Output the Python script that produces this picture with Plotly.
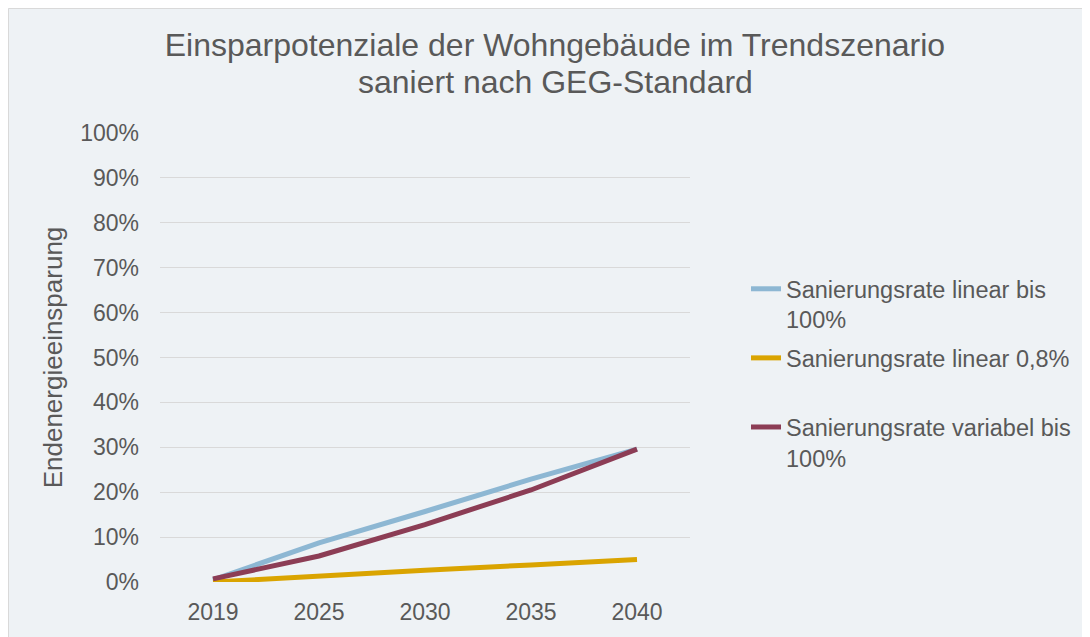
import plotly.graph_objects as go

years = ["2019", "2025", "2030", "2035", "2040"]
linear_100 = [0.005, 0.087, 0.157, 0.229, 0.296]
linear_08 = [0.000, 0.014, 0.026, 0.038, 0.050]
variabel_100 = [0.007, 0.058, 0.128, 0.205, 0.296]

title_line1 = "Einsparpotenziale der Wohngebäude im Trendszenario"
title_line2 = "saniert nach GEG-Standard"
names = ["Sanierungsrate linear bis<br>100%", "Sanierungsrate linear 0,8%<br> ", "Sanierungsrate variabel bis<br>100%"]
colors = ["#8DB7D3", "#DAA400", "#8C3D55"]

fig = go.Figure()
for i, (name, vals, col) in enumerate(zip(names, [linear_100, linear_08, variabel_100], colors)):
    fig.add_trace(go.Scatter(x=years, y=vals, mode="lines", name=name, legendgroup=f"g{i}",
                             line=dict(color=col, width=5)))

txt = "#595959"
W, H = 1082, 629
L, R, T, B = 152, 400, 125, 55
pw, ph = W - L - R, H - T - B

fig.update_layout(
    width=W, height=H,
    paper_bgcolor="#EEF2F5", plot_bgcolor="#EEF2F5",
    font=dict(family="Liberation Sans, Arial, sans-serif", color=txt, size=23),
    margin=dict(l=L, r=R, t=T, b=B),
    title=dict(text=title_line1,
               x=0.5055, xanchor="center", y=1 - 37 / H, yanchor="middle",
               font=dict(size=32, color=txt)),
    annotations=[dict(text=title_line2, xref="paper", yref="paper",
                      x=(547 - L) / pw, xanchor="center", y=1 + (T - 74) / ph, yanchor="middle",
                      showarrow=False, font=dict(size=32, color=txt))],
    xaxis=dict(type="category", range=[-0.5, 4.5], showgrid=False, zeroline=False, showline=False,
               ticks="", tickfont=dict(size=23, color=txt), ticklabelstandoff=14),
    yaxis=dict(range=[0, 1], tickvals=[i / 10 for i in range(11)], tickformat=".0%",
               showgrid=True, gridcolor="#D9D9D9", gridwidth=1, zeroline=False,
               showline=False, ticks="", tickfont=dict(size=23, color=txt),
               ticklabelstandoff=20,
               title=dict(text="Endenergieeinsparung", font=dict(size=26, color=txt), standoff=10)),
    legend=dict(x=(738 - L) / pw, xanchor="left", y=1 - (259 - T) / ph, yanchor="top", valign="top",
                bgcolor="rgba(0,0,0,0)", font=dict(size=23.5, color=txt),
                tracegroupgap=5),
    shapes=[dict(type="rect", xref="paper", yref="paper",
                 x0=-(L - 0.5) / pw, x1=(W - L + 20) / pw, y0=-(B + 20) / ph, y1=1 + (T - 0.5) / ph,
                 line=dict(color="#D9D9D9", width=1), fillcolor="rgba(0,0,0,0)", layer="below")],
)

fig.write_html("out.html")
